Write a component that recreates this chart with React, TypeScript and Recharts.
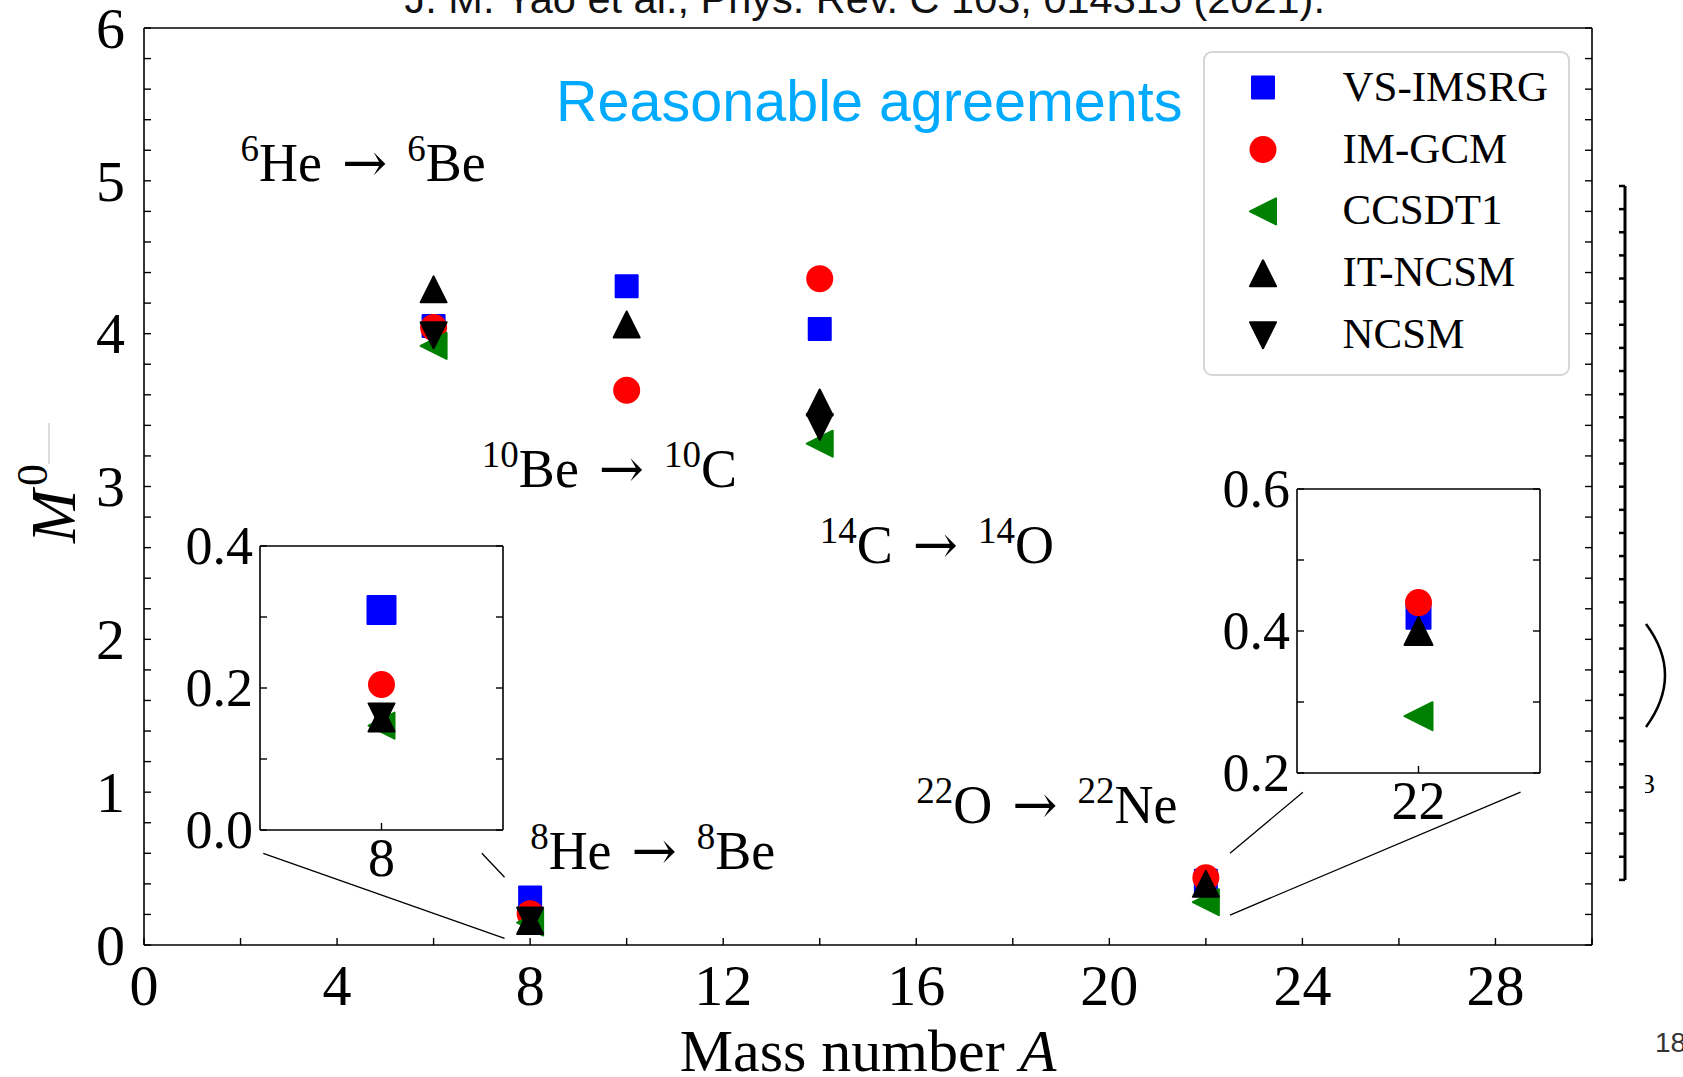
import React from 'react';
import { ScatterChart, Scatter, XAxis, YAxis, ReferenceLine, ReferenceDot } from 'recharts';

// Mass numbers of the light candidates
const massNumbers = [6, 8, 10, 14, 22];

// Nuclear matrix elements M^0 for each many-body method (null = not available)
const vsImsrg = [4.05, 0.31, 4.31, 4.03, 0.42];
const imGcm = [4.04, 0.205, 3.63, 4.36, 0.44];
const ccsdt1 = [3.92, 0.147, null, 3.28, 0.28];
const itNcsm = [4.29, 0.157, 4.06, 3.55, 0.4];
const ncsm = [3.99, 0.16, null, 3.39, null];

const methodNames = ['VS-IMSRG', 'IM-GCM', 'CCSDT1', 'IT-NCSM', 'NCSM'];
const methodValues = [vsImsrg, imGcm, ccsdt1, itNcsm, ncsm];
const methodColors = ['#0000ff', '#ff0000', '#008000', '#000000', '#000000'];
const methodMarkers = ['square', 'circle', 'tri-left', 'tri-up', 'tri-down'];

// Main panel ticks
const xTicks = [0, 2, 4, 6, 8, 10, 12, 14, 16, 18, 20, 22, 24, 26, 28, 30];
const xTickLabels = [0, 4, 8, 12, 16, 20, 24, 28];
const yTicks = [
  0, 0.2, 0.4, 0.6, 0.8, 1, 1.2, 1.4, 1.6, 1.8, 2, 2.2, 2.4, 2.6, 2.8, 3,
  3.2, 3.4, 3.6, 3.8, 4, 4.2, 4.4, 4.6, 4.8, 5, 5.2, 5.4, 5.6, 5.8, 6,
];
const yTickLabels = [0, 1, 2, 3, 4, 5, 6];

// Zoomed panel around A = 8
const lowDomainX = [7.5, 8.5];
const lowTicksX = [8];
const lowDomainY = [0, 0.4];
const lowTicksY = [0, 0.1, 0.2, 0.3, 0.4];
const lowLabelsY = [0, 0.2, 0.4];

// Zoomed panel around A = 22
const highDomainX = [21.5, 22.5];
const highTicksX = [22];
const highDomainY = [0.2, 0.6];
const highTicksY = [0.2, 0.3, 0.4, 0.5, 0.6];
const highLabelsY = [0.2, 0.4, 0.6];

// Transition labels, anchored in data units of the main panel
const transitionMass = ['6', '10', '14', '8', '22'];
const transitionParent = ['He', 'Be', 'C', 'He', 'O'];
const transitionDaughter = ['Be', 'C', 'O', 'Be', 'Ne'];
const transitionX = [2, 7, 14, 8, 16];
const transitionY = [5, 3, 2.5, 0.5, 0.8];

// Zoom connector segments [x1, y1, x2, y2] in main-panel data units
const connectorLines = [
  [2.47, 0.6, 7.47, 0.044],
  [7.0, 0.6, 7.47, 0.443],
  [24.01, 1.0, 22.5, 0.6],
  [28.52, 1.0, 22.5, 0.196],
];

const SERIF = '"Liberation Serif", "Times New Roman", serif';
const SANS = '"Liberation Sans", Arial, sans-serif';
const ARROW_FONT = '"DejaVu Serif", serif';
const AXIS_LINE = { stroke: '#000', strokeWidth: 1.6 };

type Sizes = { square: number; circle: number; tri: number };
const mainSizes: Sizes = { square: 24, circle: 27, tri: 28 };
const lowSizes: Sizes = { square: 30, circle: 27, tri: 28 };
const highSizes: Sizes = { square: 26, circle: 27, tri: 30 };

function drawMarker(kind: string, cx: number, cy: number, sz: Sizes, color: string) {
  if (kind === 'circle') return <circle cx={cx} cy={cy} r={sz.circle / 2} fill={color} />;
  if (kind === 'square') {
    const s = sz.square - 2;
    return (
      <rect x={cx - s / 2} y={cy - s / 2} width={s} height={s} fill={color}
        stroke={color} strokeWidth={2} strokeLinejoin="round" />
    );
  }
  const h = sz.tri / 2 - 1;
  let d = '';
  if (kind === 'tri-up') d = `M${cx},${cy - h} L${cx + h},${cy + h} L${cx - h},${cy + h} Z`;
  if (kind === 'tri-down') d = `M${cx},${cy + h} L${cx + h},${cy - h} L${cx - h},${cy - h} Z`;
  if (kind === 'tri-left') d = `M${cx - h},${cy} L${cx + h},${cy - h} L${cx + h},${cy + h} Z`;
  return <path d={d} fill={color} stroke={color} strokeWidth={2} strokeLinejoin="round" />;
}

function seriesPoints(i: number, onlyA?: number) {
  return massNumbers
    .map((a, k) => ({ x: a, y: methodValues[i][k] }))
    .filter((p) => p.y !== null && (onlyA === undefined || p.x === onlyA));
}

type Side = 'bottom' | 'top' | 'left' | 'right';

function tickRenderer(
  side: Side,
  len: number,
  labels: number[] | null,
  fmt: (v: number) => string,
  fontSize: number,
  gap: number
) {
  return (props: any) => {
    const { x, y, payload } = props;
    const v = Number(payload.value);
    let x2 = x;
    let y2 = y;
    if (side === 'bottom') y2 = y - len;
    if (side === 'top') y2 = y + len;
    if (side === 'left') x2 = x + len;
    if (side === 'right') x2 = x - len;
    const show = labels !== null && labels.some((l) => Math.abs(l - v) < 1e-9);
    return (
      <g>
        <line x1={x} y1={y} x2={x2} y2={y2} stroke="#000" strokeWidth={1.4} />
        {show && side === 'bottom' && (
          <text x={x} y={y + gap} textAnchor="middle" fontFamily={SERIF} fontSize={fontSize} fill="#000">
            {fmt(v)}
          </text>
        )}
        {show && side === 'left' && (
          <text x={x - gap} y={y + fontSize * 0.34} textAnchor="end" fontFamily={SERIF} fontSize={fontSize} fill="#000">
            {fmt(v)}
          </text>
        )}
      </g>
    );
  };
}

const intFmt = (v: number) => String(Math.round(v));
const decFmt = (v: number) => v.toFixed(1);

function TransitionLabel(props: any) {
  const { viewBox, mass, parent, daughter } = props;
  const x = viewBox.x + (viewBox.width || 0) / 2;
  const y = viewBox.y + (viewBox.height || 0) / 2;
  return (
    <text x={x} y={y} fontFamily={SERIF} fontSize={54} fill="#000">
      <tspan fontSize={37} dy={-20}>{mass}</tspan>
      <tspan dy={20}>{parent}</tspan>
      <tspan dx={20} fontFamily={ARROW_FONT} fontSize={54}>→</tspan>
      <tspan dx={20} fontSize={37} dy={-20}>{mass}</tspan>
      <tspan dy={20}>{daughter}</tspan>
    </text>
  );
}

function InsetPanel(props: {
  plotLeft: number;
  plotTop: number;
  domainX: number[];
  ticksX: number[];
  domainY: number[];
  ticksY: number[];
  labelsY: number[];
  focusA: number;
  sizes: Sizes;
}) {
  const W = 243;
  const H = 284;
  const L = 120;
  const T = 30;
  const R = 12;
  const B = 70;
  const { plotLeft, plotTop, domainX, ticksX, domainY, ticksY, labelsY, focusA, sizes } = props;
  return (
    <div style={{ position: 'absolute', left: plotLeft - L, top: plotTop - T }}>
      <ScatterChart width={L + W + R} height={T + H + B} margin={{ top: 0, right: 0, bottom: 0, left: 0 }}>
        <XAxis xAxisId="bottom" type="number" dataKey="x" domain={domainX} ticks={ticksX} interval={0}
          height={B} tickSize={0} tickMargin={0} tickLine={false} axisLine={AXIS_LINE} allowDataOverflow
          tick={tickRenderer('bottom', 7, ticksX, intFmt, 54, 46)} />
        <XAxis xAxisId="top" orientation="top" type="number" domain={domainX} ticks={ticksX} interval={0}
          height={T} tickSize={0} tickMargin={0} tickLine={false} axisLine={AXIS_LINE} allowDataOverflow
          tick={tickRenderer('top', 7, null, intFmt, 54, 0)} />
        <YAxis yAxisId="left" type="number" dataKey="y" domain={domainY} ticks={ticksY} interval={0}
          width={L} tickSize={0} tickMargin={0} tickLine={false} axisLine={AXIS_LINE} allowDataOverflow
          tick={tickRenderer('left', 7, labelsY, decFmt, 54, 7)} />
        <YAxis yAxisId="right" orientation="right" type="number" domain={domainY} ticks={ticksY} interval={0}
          width={R} tickSize={0} tickMargin={0} tickLine={false} axisLine={AXIS_LINE} allowDataOverflow
          tick={tickRenderer('right', 7, null, decFmt, 54, 0)} />
        {methodNames.map((name, i) => (
          <Scatter key={name} name={name} data={seriesPoints(i, focusA)} xAxisId="bottom" yAxisId="left"
            isAnimationActive={false}
            shape={(p: any) => drawMarker(methodMarkers[i], p.cx, p.cy, sizes, methodColors[i])} />
        ))}
      </ScatterChart>
    </div>
  );
}

function LegendBox() {
  const left = 1203;
  const top = 51;
  const w = 367;
  const h = 325;
  return (
    <div style={{
      position: 'absolute', left, top, width: w, height: h, boxSizing: 'border-box',
      border: '2px solid #d6d6d6', borderRadius: 9, background: 'rgba(255,255,255,0.85)',
    }}>
      <svg width={w} height={h} style={{ position: 'absolute', left: -2, top: -2 }}>
        {methodNames.map((name, i) => {
          const cy = 36.6 + i * 61.9;
          return (
            <g key={name}>
              {drawMarker(methodMarkers[i], 60, cy, mainSizes, methodColors[i])}
              <text x={139.5} y={cy + 13} fontFamily={SERIF} fontSize={43} fill="#000">{name}</text>
            </g>
          );
        })}
      </svg>
    </div>
  );
}

function PageDecor() {
  const ruleTicks: number[] = [];
  for (let k = 0; k <= 30; k++) ruleTicks.push(186 + k * 23.13);
  return (
    <svg width={1683} height={1077} style={{ position: 'absolute', left: 0, top: 0, pointerEvents: 'none' }}>
      <defs>
        <clipPath id="partial-three">
          <rect x={1645} y={760} width={40} height={40} />
        </clipPath>
      </defs>
      <text x={404.5} y={13} fontFamily={SANS} fontSize={41.5} fill="#111">
        J. M. Yao et al., Phys. Rev. C 103, 014315 (2021).
      </text>
      <text x={556} y={120.7} fontFamily={SANS} fontSize={57.5} fill="#00aaff">
        Reasonable agreements
      </text>
      <text x={868} y={1071} textAnchor="middle" fontFamily={SERIF} fontSize={60} fill="#000">
        Mass number <tspan fontStyle="italic">A</tspan>
      </text>
      <g transform="translate(75,543) rotate(-90)">
        <text x={0} y={0} fontFamily={SERIF} fontStyle="italic" fontSize={64} fill="#000">M</text>
        <text x={57} y={-28} fontFamily={SERIF} fontSize={44} fill="#000">0</text>
        <line x1={79} y1={-26} x2={120} y2={-26} stroke="#c4c4c4" strokeWidth={1.2} />
      </g>
      {/* edge of a neighbouring panel on the slide */}
      <line x1={1625} y1={186} x2={1625} y2={880} stroke="#000" strokeWidth={3} />
      {ruleTicks.map((y, k) => (
        <line key={k} x1={1619} y1={y} x2={1625} y2={y} stroke="#000" strokeWidth={2.5} />
      ))}
      <path d="M1646,624 Q1684,675 1646,727" fill="none" stroke="#000" strokeWidth={2.5} />
      <text x={1641} y={793} fontFamily={SERIF} fontSize={28} fill="#000" clipPath="url(#partial-three)">3</text>
      <text x={1655} y={1051.5} fontFamily={SANS} fontSize={28} fill="#333">18</text>
    </svg>
  );
}

export default function App() {
  return (
    <div style={{ position: 'absolute', left: 0, top: 0, width: 1683, height: 1077, background: '#fff', overflow: 'hidden' }}>
      <ScatterChart width={1683} height={1077} margin={{ top: 0, right: 0, bottom: 0, left: 0 }}>
        <XAxis xAxisId="bottom" type="number" dataKey="x" domain={[0, 30]} ticks={xTicks} interval={0}
          height={132} tickSize={0} tickMargin={0} tickLine={false} axisLine={AXIS_LINE} allowDataOverflow
          tick={tickRenderer('bottom', 7, xTickLabels, intFmt, 58, 60)} />
        <XAxis xAxisId="top" orientation="top" type="number" domain={[0, 30]} ticks={xTicks} interval={0}
          height={28} tickSize={0} tickMargin={0} tickLine={false} axisLine={AXIS_LINE} allowDataOverflow
          tick={tickRenderer('top', 7, null, intFmt, 58, 0)} />
        <YAxis yAxisId="left" type="number" dataKey="y" domain={[0, 6]} ticks={yTicks} interval={0}
          width={144} tickSize={0} tickMargin={0} tickLine={false} axisLine={AXIS_LINE} allowDataOverflow
          tick={tickRenderer('left', 7, yTickLabels, intFmt, 58, 19)} />
        <YAxis yAxisId="right" orientation="right" type="number" domain={[0, 6]} ticks={yTicks} interval={0}
          width={91} tickSize={0} tickMargin={0} tickLine={false} axisLine={AXIS_LINE} allowDataOverflow
          tick={tickRenderer('right', 7, null, intFmt, 58, 0)} />
        {connectorLines.map((c, k) => (
          <ReferenceLine key={`c${k}`} xAxisId="bottom" yAxisId="left" ifOverflow="visible"
            segment={[{ x: c[0], y: c[1] }, { x: c[2], y: c[3] }]} stroke="#000" strokeWidth={1.3} />
        ))}
        {transitionMass.map((m, k) => (
          <ReferenceDot key={`t${k}`} xAxisId="bottom" yAxisId="left" x={transitionX[k]} y={transitionY[k]}
            r={0} fill="none" stroke="none" ifOverflow="visible"
            label={(p: any) => (
              <TransitionLabel viewBox={p.viewBox} mass={m} parent={transitionParent[k]} daughter={transitionDaughter[k]} />
            )} />
        ))}
        {methodNames.map((name, i) => (
          <Scatter key={name} name={name} data={seriesPoints(i)} xAxisId="bottom" yAxisId="left"
            isAnimationActive={false}
            shape={(p: any) => drawMarker(methodMarkers[i], p.cx, p.cy, mainSizes, methodColors[i])} />
        ))}
      </ScatterChart>
      <PageDecor />
      <LegendBox />
      <InsetPanel plotLeft={259.5} plotTop={545.7} domainX={lowDomainX} ticksX={lowTicksX}
        domainY={lowDomainY} ticksY={lowTicksY} labelsY={lowLabelsY} focusA={8} sizes={lowSizes} />
      <InsetPanel plotLeft={1297.2} plotTop={489.3} domainX={highDomainX} ticksX={highTicksX}
        domainY={highDomainY} ticksY={highTicksY} labelsY={highLabelsY} focusA={22} sizes={highSizes} />
    </div>
  );
}
